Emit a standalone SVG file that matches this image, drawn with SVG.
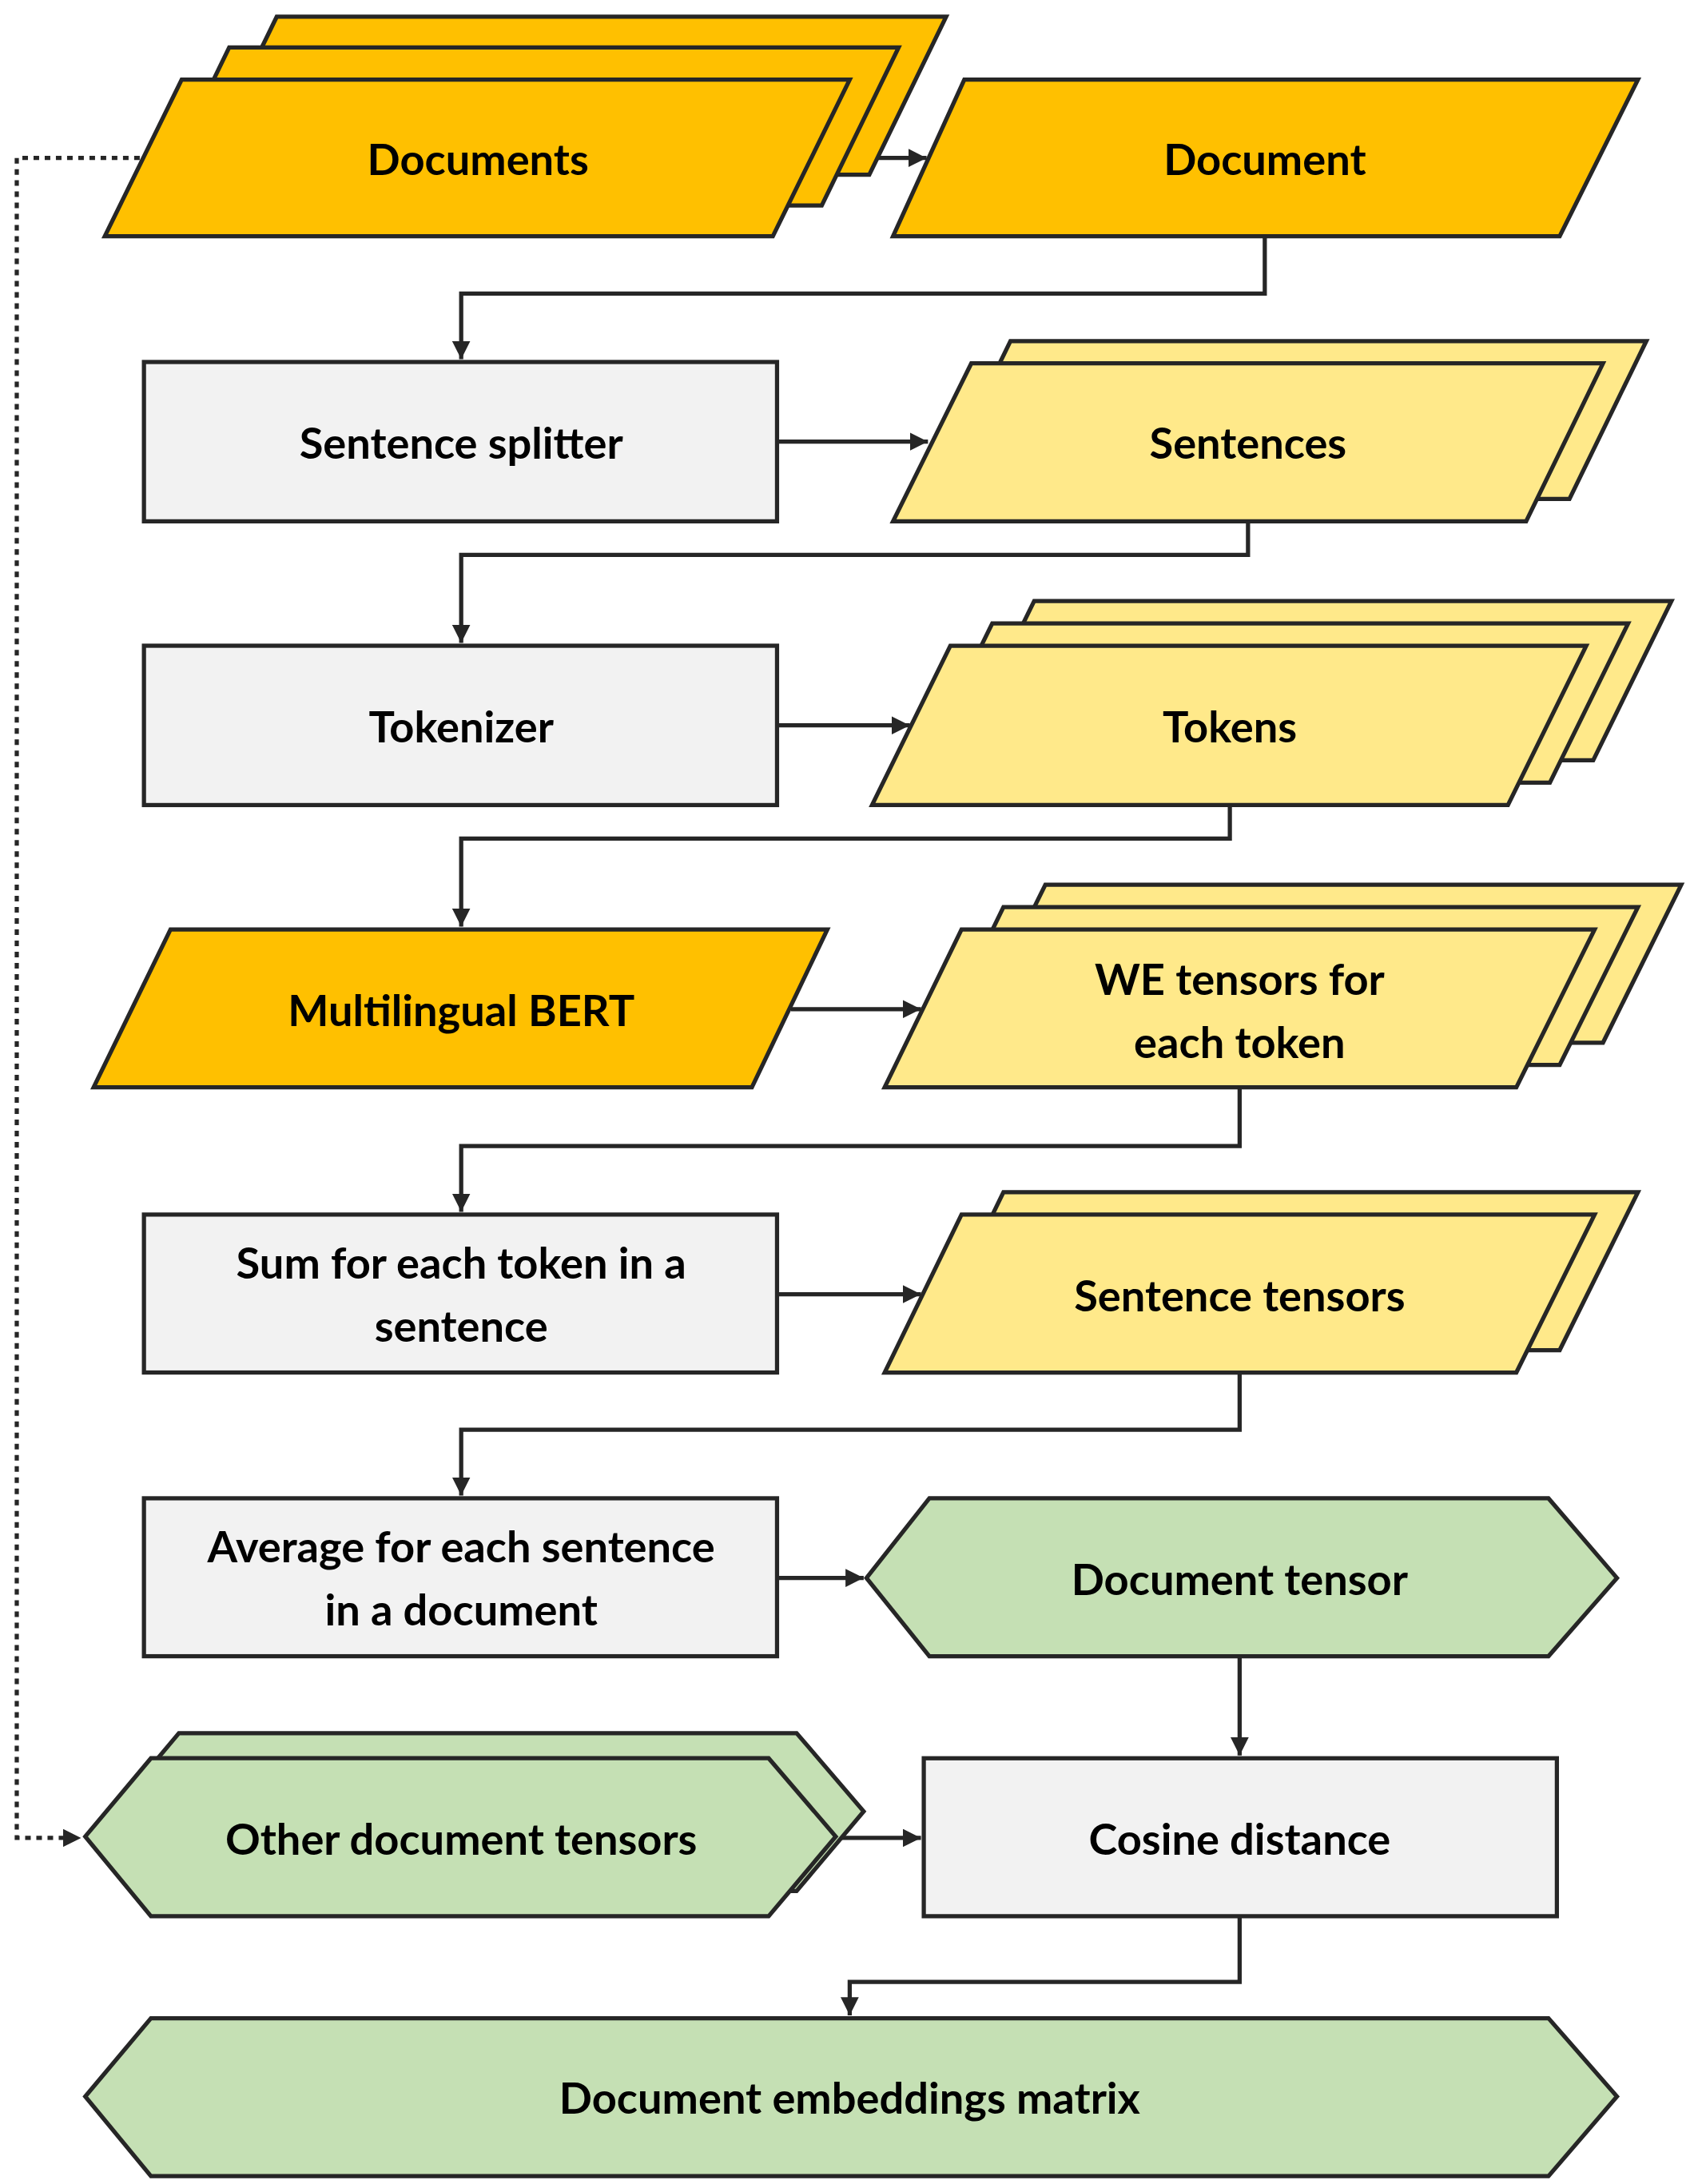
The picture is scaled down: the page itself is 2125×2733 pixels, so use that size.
<svg xmlns="http://www.w3.org/2000/svg" width="2125" height="2733" viewBox="0 0 2125 2733">
<style>
.s{stroke:#262626;stroke-width:3;stroke-linejoin:miter}
.o{fill:#FFC000}.y{fill:#FFE98A}.g{fill:#F2F2F2}.gr{fill:#C5E0B4}
.c{fill:none;stroke:#262626;stroke-width:3}
.d{fill:none;stroke:#262626;stroke-width:3;stroke-dasharray:4 4}
text{font-family:Lato,"Open Sans",sans-serif;font-weight:bold;font-size:31px;fill:#000;text-anchor:middle;dominant-baseline:central}
</style>
<defs>
<marker id="a" viewBox="0 0 12 12" refX="12" refY="6" markerWidth="13" markerHeight="13" markerUnits="userSpaceOnUse" orient="auto"><path d="M0,0L12,6L0,12z" fill="#262626"/></marker>
</defs>
<rect width="2125" height="2733" fill="#fff"/>
<g transform="scale(1.749)">
<g id="connectors">
<path class="d" d="M100,113H12V1315H58" marker-end="url(#a)"/>
<path class="c" d="M575,113H663" marker-end="url(#a)"/>
<path class="c" d="M905,169V210H330V257" marker-end="url(#a)"/>
<path class="c" d="M556,316H664" marker-end="url(#a)"/>
<path class="c" d="M893,373V397H330V460" marker-end="url(#a)"/>
<path class="c" d="M556,519H651" marker-end="url(#a)"/>
<path class="c" d="M880,576V600H330V663" marker-end="url(#a)"/>
<path class="c" d="M566,722H659" marker-end="url(#a)"/>
<path class="c" d="M887,778V820H330V867" marker-end="url(#a)"/>
<path class="c" d="M556,926H659" marker-end="url(#a)"/>
<path class="c" d="M887,982V1023H330V1070" marker-end="url(#a)"/>
<path class="c" d="M556,1129H618" marker-end="url(#a)"/>
<path class="c" d="M887,1185V1256" marker-end="url(#a)"/>
<path class="c" d="M598,1315H659" marker-end="url(#a)"/>
<path class="c" d="M887,1371V1418H608V1442" marker-end="url(#a)"/>
</g>
<g id="documents">
<polygon class="s o" points="198,12 677,12 622,125 143,125"/>
<polygon class="s o" points="164,34 643,34 588,147 109,147"/>
<polygon class="s o" points="130,57 608,57 553,169 75,169"/>
<text x="342" y="113">Documents</text>
</g>
<g id="document">
<polygon class="s o" points="690,57 1172,57 1116,169 639,169"/>
<text x="905" y="113">Document</text>
</g>
<g id="splitter">
<rect class="s g" x="103" y="259" width="453" height="114"/>
<text x="330" y="316">Sentence splitter</text>
</g>
<g id="sentences">
<polygon class="s y" points="723,244 1178,244 1123,357 668,357"/>
<polygon class="s y" points="695,260 1147,260 1092,373 639,373"/>
<text x="893" y="316">Sentences</text>
</g>
<g id="tokenizer">
<rect class="s g" x="103" y="462" width="453" height="114"/>
<text x="330" y="519">Tokenizer</text>
</g>
<g id="tokens">
<polygon class="s y" points="740,430 1196,430 1140,544 684,544"/>
<polygon class="s y" points="710,446 1165,446 1109,560 654,560"/>
<polygon class="s y" points="680,462 1135,462 1079,576 624,576"/>
<text x="880" y="519">Tokens</text>
</g>
<g id="bert">
<polygon class="s o" points="122,665 592,665 538,778 67,778"/>
<text x="330" y="722">Multilingual BERT</text>
</g>
<g id="we">
<polygon class="s y" points="748,633 1203,633 1147,746 692,746"/>
<polygon class="s y" points="718,649 1172,649 1116,762 663,762"/>
<polygon class="s y" points="688,665 1141,665 1085,778 633,778"/>
<text x="887" y="700">WE tensors for</text>
<text x="887" y="745">each token</text>
</g>
<g id="sum">
<rect class="s g" x="103" y="869" width="453" height="113"/>
<text x="330" y="903">Sum for each token in a</text>
<text x="330" y="948">sentence</text>
</g>
<g id="senttensors">
<polygon class="s y" points="718,853 1172,853 1116,966 663,966"/>
<polygon class="s y" points="688,869 1141,869 1085,982 633,982"/>
<text x="887" y="926">Sentence tensors</text>
</g>
<g id="average">
<rect class="s g" x="103" y="1072" width="453" height="113"/>
<text x="330" y="1106">Average for each sentence</text>
<text x="330" y="1151">in a document</text>
</g>
<g id="doctensor">
<polygon class="s gr" points="620,1129 665,1072 1108,1072 1157,1129 1108,1185 665,1185"/>
<text x="887" y="1129">Document tensor</text>
</g>
<g id="cosine">
<rect class="s g" x="661" y="1258" width="453" height="113"/>
<text x="887" y="1315">Cosine distance</text>
</g>
<g id="others">
<polygon class="s gr" points="81,1296 128,1240 570,1240 618,1296 570,1353 128,1353"/>
<polygon class="s gr" points="61,1314 108,1258 550,1258 598,1314 550,1371 108,1371"/>
<text x="330" y="1315">Other document tensors</text>
</g>
<g id="matrix">
<polygon class="s gr" points="61,1500 108,1444 1108,1444 1157,1500 1108,1557 108,1557"/>
<text x="608" y="1500">Document embeddings matrix</text>
</g>
</g>
</svg>
